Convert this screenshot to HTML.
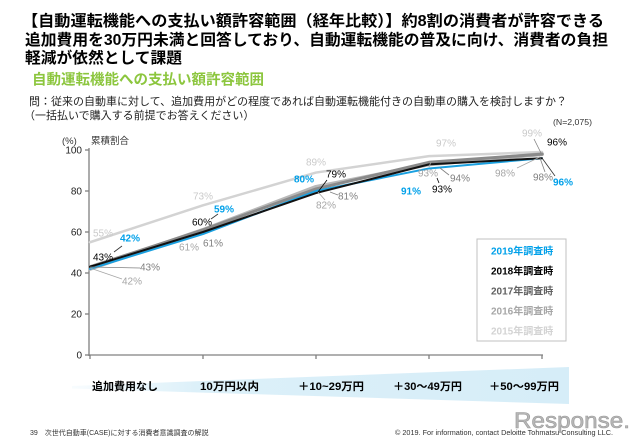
<!DOCTYPE html>
<html>
<head>
<meta charset="utf-8">
<style>
  html, body { margin: 0; padding: 0; background: #ffffff; }
  body { width: 640px; height: 443px; overflow: hidden; }
  svg { display: block; }
  .jp { font-family: "Liberation Sans", "Noto Sans CJK JP", sans-serif; }
  .lat { font-family: "Liberation Sans", sans-serif; }
</style>
</head>
<body>
<svg width="640" height="443" viewBox="0 0 640 443" xmlns="http://www.w3.org/2000/svg">
  <defs>
    <linearGradient id="wedge" x1="0" y1="0" x2="1" y2="0">
      <stop offset="0" stop-color="#e6f4fb" stop-opacity="0.3"/>
      <stop offset="0.25" stop-color="#dcf0f9"/>
      <stop offset="1" stop-color="#d6edf8"/>
    </linearGradient>
  </defs>
  <rect x="0" y="0" width="640" height="443" fill="#ffffff"/>

  <!-- Title -->
  <g class="jp" font-weight="bold" fill="#000" font-size="15.6">
    <text x="22" y="26" textLength="582" lengthAdjust="spacingAndGlyphs">【自動運転機能への支払い額許容範囲（経年比較）】約8割の消費者が許容できる</text>
    <text x="25" y="45" textLength="583" lengthAdjust="spacingAndGlyphs">追加費用を30万円未満と回答しており、自動運転機能の普及に向け、消費者の負担</text>
    <text x="25" y="63" textLength="157" lengthAdjust="spacingAndGlyphs">軽減が依然として課題</text>
  </g>
  <text class="jp" x="32" y="84.5" font-size="14.5" font-weight="bold" fill="#8cc63e" textLength="232" lengthAdjust="spacingAndGlyphs">自動運転機能への支払い額許容範囲</text>
  <g class="jp" font-size="11" fill="#222">
    <text x="29" y="105">問：従来の自動車に対して、追加費用がどの程度であれば自動運転機能付きの自動車の購入を検討しますか？</text>
    <text x="24" y="119">（一括払いで購入する前提でお答えください）</text>
  </g>
  <text class="lat" x="553" y="125" font-size="8" fill="#333" textLength="39" lengthAdjust="spacingAndGlyphs">(N=2,075)</text>

  <!-- Axis labels -->
  <text class="lat" x="62" y="144" font-size="9.5" fill="#333">(%)</text>
  <text class="jp" x="91" y="144" font-size="9.5" fill="#333">累積割合</text>

  <!-- Y ticks -->
  <g class="lat" font-size="10" fill="#222" text-anchor="end">
    <text x="82" y="153.5">100</text>
    <text x="82" y="194.5">80</text>
    <text x="82" y="235.5">60</text>
    <text x="82" y="276.5">40</text>
    <text x="82" y="317.5">20</text>
    <text x="82" y="358.5">0</text>
  </g>
  <g stroke="#808080" stroke-width="1.3" fill="none">
    <line x1="89" y1="148" x2="89" y2="356"/>
    <line x1="89" y1="355" x2="543" y2="355"/>
    <line x1="85" y1="150" x2="89" y2="150"/>
    <line x1="85" y1="191" x2="89" y2="191"/>
    <line x1="85" y1="232" x2="89" y2="232"/>
    <line x1="85" y1="273" x2="89" y2="273"/>
    <line x1="85" y1="314" x2="89" y2="314"/>
    <line x1="85" y1="355" x2="89" y2="355"/>
    <line x1="90" y1="355" x2="90" y2="359"/>
    <line x1="203" y1="355" x2="203" y2="359"/>
    <line x1="316" y1="355" x2="316" y2="359"/>
    <line x1="429" y1="355" x2="429" y2="359"/>
    <line x1="542" y1="355" x2="542" y2="359"/>
  </g>

  <!-- Series lines -->
  <g fill="none" stroke-linejoin="round" stroke-linecap="round">
    <polyline stroke="#d3d3d3" stroke-width="2.5" points="90,242.25 203,205.35 316,172.55 429,156.15 542,152.05"/>
    <polyline stroke="#b9b9b9" stroke-width="4" points="90,268.9 203,229.95 316,186.9 429,164.35 542,154.1"/>
    <polyline stroke="#8a8a8a" stroke-width="3" points="90,266.85 203,229.95 316,188.95 429,162.3 542,154.1"/>
    <polyline stroke="#1aa0e0" stroke-width="2" points="90,268.9 203,234.05 316,191 429,168.45 542,158.2"/>
    <polyline stroke="#111111" stroke-width="2" points="90,266.85 203,232 316,193.05 429,164.35 542,158.2"/>
  </g>

  <!-- Leader lines -->
  <g fill="none" stroke-width="0.8">
    <line x1="90" y1="267" x2="140" y2="268" stroke="#808080"/>
    <line x1="90" y1="268" x2="122" y2="279" stroke="#a6a6a6"/>
    <line x1="90" y1="266" x2="100" y2="264" stroke="#000"/>
    <line x1="114" y1="252" x2="122" y2="246" stroke="#333"/>
    <line x1="211" y1="219" x2="218" y2="214" stroke="#333"/>
    <line x1="327" y1="180" x2="318" y2="192" stroke="#000"/>
    <line x1="318" y1="192" x2="325" y2="200" stroke="#a6a6a6"/>
    <line x1="330" y1="192" x2="338" y2="195" stroke="#808080"/>
    <line x1="431" y1="162" x2="429" y2="167" stroke="#a6a6a6"/>
    <line x1="440" y1="168" x2="449" y2="175" stroke="#808080"/>
    <line x1="437" y1="178" x2="439" y2="183" stroke="#000"/>
    <line x1="517" y1="168" x2="540" y2="157" stroke="#a6a6a6"/>
    <line x1="534" y1="139" x2="541" y2="153" stroke="#808080"/>
    <line x1="540" y1="158" x2="545" y2="172" stroke="#808080"/>
    <line x1="542" y1="158" x2="555" y2="176" stroke="#333"/>
  </g>

  <!-- Data labels -->
  <g class="lat" font-size="10" text-anchor="middle">
    <!-- 2015 -->
    <g fill="#cacaca">
      <text x="103" y="236.5">55%</text>
      <text x="203" y="199.5">73%</text>
      <text x="316" y="165.5">89%</text>
      <text x="446" y="146.5">97%</text>
      <text x="532" y="136.5">99%</text>
    </g>
    <!-- 2016 -->
    <g fill="#a6a6a6">
      <text x="132" y="284.5">42%</text>
      <text x="189" y="250.5">61%</text>
      <text x="326" y="208.5">82%</text>
      <text x="428" y="176.5">93%</text>
      <text x="505" y="176.5">98%</text>
    </g>
    <!-- 2017 -->
    <g fill="#7f7f7f">
      <text x="150" y="270.5">43%</text>
      <text x="213" y="246.5">61%</text>
      <text x="348" y="199.5">81%</text>
      <text x="460" y="181.5">94%</text>
      <text x="543" y="180.5">98%</text>
    </g>
    <!-- 2018 -->
    <g fill="#000">
      <text x="103" y="260.5">43%</text>
      <text x="202" y="225.5">60%</text>
      <text x="336" y="177.5">79%</text>
      <text x="442" y="192.5">93%</text>
      <text x="557" y="145.5">96%</text>
    </g>
    <!-- 2019 -->
    <g fill="#00a0e9" font-weight="bold">
      <text x="130" y="241.5">42%</text>
      <text x="224" y="212.5">59%</text>
      <text x="304" y="182.5">80%</text>
      <text x="411" y="194.5">91%</text>
      <text x="563" y="185.5">96%</text>
    </g>
  </g>

  <!-- Legend -->
  <rect x="477" y="239" width="89" height="102" fill="#fff" stroke="#c0c0c0" stroke-width="1"/>
  <g class="jp" font-size="10" font-weight="bold">
    <text x="491" y="254.5" fill="#00a0e9">2019年調査時</text>
    <text x="491" y="274.5" fill="#000">2018年調査時</text>
    <text x="491" y="294.5" fill="#606060">2017年調査時</text>
    <text x="491" y="314.5" fill="#a6a6a6">2016年調査時</text>
    <text x="491" y="334.5" fill="#d3d3d3">2015年調査時</text>
  </g>

  <!-- Bottom wedge & categories -->
  <polygon points="72,386 569,367 569,404 72,388.5" fill="url(#wedge)"/>
  <g class="jp" font-size="11" font-weight="bold" fill="#000">
    <text x="92" y="390" textLength="66" lengthAdjust="spacingAndGlyphs">追加費用なし</text>
    <text x="200" y="390" textLength="59" lengthAdjust="spacingAndGlyphs">10万円以内</text>
    <text x="298" y="390" textLength="66" lengthAdjust="spacingAndGlyphs">＋10~29万円</text>
    <text x="393" y="390" textLength="69" lengthAdjust="spacingAndGlyphs">＋30～49万円</text>
    <text x="489" y="390" textLength="70" lengthAdjust="spacingAndGlyphs">＋50～99万円</text>
  </g>

  <!-- Footer -->
  <text class="jp" x="30" y="435" font-size="7" fill="#333">39　次世代自動車(CASE)に対する消費者意識調査の解説</text>
  <text class="lat" x="395" y="435" font-size="7" fill="#333" textLength="218" lengthAdjust="spacingAndGlyphs">© 2019. For information, contact Deloitte Tohmatsu Consulting LLC.</text>

  <!-- Watermark -->
  <text class="lat" x="514" y="428" font-size="22" fill="#b8b8b8" stroke="#9a9a9a" stroke-width="0.6" textLength="116" lengthAdjust="spacingAndGlyphs">Response.</text>
</svg>
</body>
</html>
